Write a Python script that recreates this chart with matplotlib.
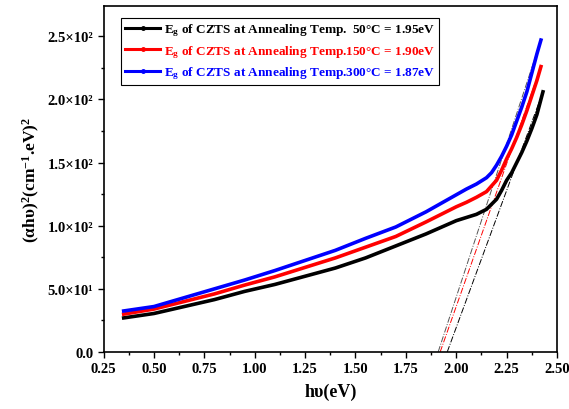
import matplotlib
matplotlib.use('Agg')
import matplotlib.pyplot as plt
from matplotlib.lines import Line2D
from matplotlib.ticker import MultipleLocator, FixedLocator, FixedFormatter

# Fonts: bold Times-like look
plt.rcParams['font.family'] = ['Liberation Serif', 'DejaVu Serif']
plt.rcParams['font.weight'] = 'bold'
plt.rcParams['mathtext.fontset'] = 'custom'
plt.rcParams['mathtext.rm'] = 'Liberation Serif:bold'
plt.rcParams['mathtext.it'] = 'Liberation Serif:bold:italic'
plt.rcParams['mathtext.bf'] = 'Liberation Serif:bold'

# Data
hv_50 = [0.35, 0.50, 0.65, 0.80, 0.95, 1.10, 1.25, 1.40, 1.55, 1.70, 1.85, 2.00,
         2.05, 2.10, 2.15, 2.20, 2.225, 2.25, 2.275, 2.30, 2.325, 2.35, 2.375, 2.40, 2.43]
ahv_50 = [27, 30.5, 36, 41.5, 48, 53.5, 60, 66.5, 74.5, 84, 93.5, 104,
          106.5, 109, 113, 121, 128, 136, 142, 150, 158, 167, 177, 188, 206]

hv_150 = [0.35, 0.50, 0.65, 0.80, 0.95, 1.10, 1.25, 1.40, 1.55, 1.70, 1.85, 2.00,
          2.05, 2.10, 2.15, 2.20, 2.225, 2.25, 2.275, 2.30, 2.325, 2.35, 2.375, 2.40, 2.42]
ahv_150 = [30, 34, 40, 46, 53, 59.5, 67, 74.5, 83, 91.5, 103, 115,
           118.5, 122.5, 127, 136, 144, 153, 161, 170, 180, 191, 203, 215, 226]

hv_300 = [0.35, 0.50, 0.65, 0.80, 0.95, 1.10, 1.25, 1.40, 1.55, 1.70, 1.85, 2.00,
          2.05, 2.10, 2.15, 2.175, 2.20, 2.225, 2.25, 2.275, 2.30, 2.325, 2.35, 2.375, 2.40, 2.42]
ahv_300 = [32.5, 36, 43, 50, 57, 64.5, 72.5, 80.5, 90, 99, 111, 124.5,
           129, 133, 138, 142, 148, 155, 163, 172, 183, 194, 206, 221, 236, 247]

labels = [r'E$_\mathregular{g}$ of CZTS at Annealing Temp.  50°C = 1.95eV',
          r'E$_\mathregular{g}$ of CZTS at Annealing Temp.150°C = 1.90eV',
          r'E$_\mathregular{g}$ of CZTS at Annealing Temp.300°C = 1.87eV']
colors = ['black', 'red', 'blue']

# Tangent (Tauc) lines: x where they cross zero, and the top point
tan_x0 = [1.955, 1.92, 1.91]
tan_x1 = [2.43, 2.42, 2.42]
tan_y1 = [206, 226, 247]
tan_colors = ['black', 'red', '#555555']

ytick_vals = [0, 50, 100, 150, 200, 250]
ytick_labels = ['0.0', '5.0×10¹', '1.0×10²', '1.5×10²', '2.0×10²', '2.5×10²']

fig = plt.figure(figsize=(5.69, 4.10), dpi=100)
ax = fig.add_axes([0.182, 0.139, 0.797, 0.844])

for x0, x1, y1, c in zip(tan_x0, tan_x1, tan_y1, tan_colors):
    ax.plot([x0, x1], [0, y1], color=c, lw=0.7, ls='-.', zorder=1)

series = [(hv_50, ahv_50), (hv_150, ahv_150), (hv_300, ahv_300)]
for (x, y), c in zip(series, colors):
    ax.plot(x, y, color=c, lw=2.6, zorder=2, solid_joinstyle='round')

ax.set_xlim(0.25, 2.5)
ax.set_ylim(0, 274)
ax.xaxis.set_major_locator(MultipleLocator(0.25))
ax.xaxis.set_minor_locator(MultipleLocator(0.125))
ax.yaxis.set_major_locator(FixedLocator(ytick_vals))
ax.yaxis.set_major_formatter(FixedFormatter(ytick_labels))
ax.yaxis.set_minor_locator(MultipleLocator(25))
ax.tick_params(axis='both', which='major', direction='out', length=4, width=1, labelsize=10.5)
ax.tick_params(axis='both', which='minor', direction='out', length=2.5, width=1)
for lbl in ax.get_xticklabels() + ax.get_yticklabels():
    lbl.set_fontweight('bold')
for sp in ax.spines.values():
    sp.set_linewidth(1.2)

ax.set_xlabel('hυ(eV)', fontsize=13, fontweight='bold', labelpad=5)
ax.set_ylabel(r'(αhυ)$^\mathregular{2}$(cm$^\mathregular{-1}$.eV)$^\mathregular{2}$',
              fontsize=12.5, fontweight='bold')

# legend handles: line with a small dot in the middle
handles = [Line2D([0], [0], color=c, lw=2.2, marker='o', ms=2.5) for c in colors]
leg = ax.legend(handles, labels, loc='upper left', bbox_to_anchor=(0.025, 0.985), fontsize=9.5,
                frameon=True, fancybox=False, edgecolor='black', handlelength=2.6,
                handletextpad=0.3, borderpad=0.3, labelspacing=0.35, framealpha=1)
leg.get_frame().set_linewidth(0.8)
for txt, c in zip(leg.get_texts(), colors):
    txt.set_color(c)
    txt.set_fontweight('bold')

fig.savefig('out.png', dpi=100)
